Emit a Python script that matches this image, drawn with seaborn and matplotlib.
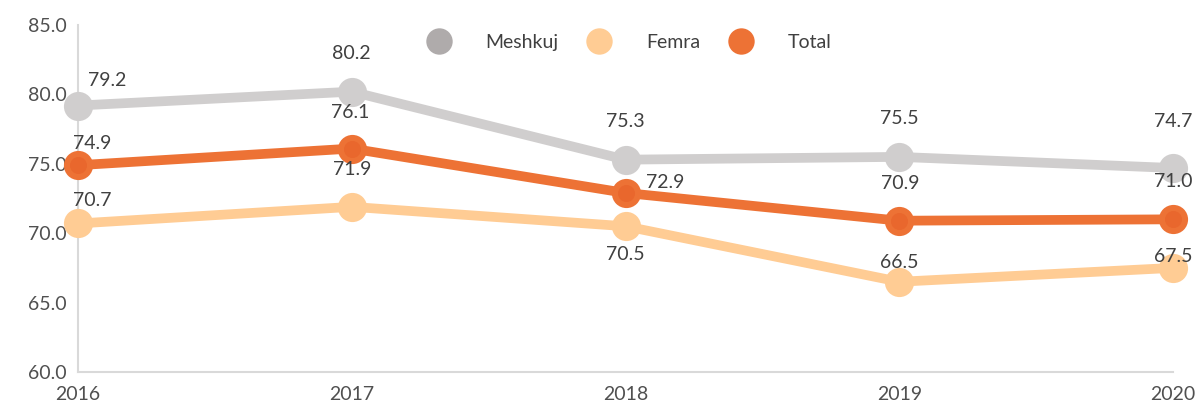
"""Line chart: Meshkuj / Femra / Total, 2016-2020."""
import pandas as pd
import seaborn as sns
import matplotlib.pyplot as plt
from matplotlib.lines import Line2D

years = [2016, 2017, 2018, 2019, 2020]
meshkuj = [79.2, 80.2, 75.3, 75.5, 74.7]
femra = [70.7, 71.9, 70.5, 66.5, 67.5]
total = [74.9, 76.1, 72.9, 70.9, 71.0]
series_names = ['Meshkuj', 'Femra', 'Total']

colors = {'Meshkuj': '#D0CECE', 'Femra': '#FFCC94', 'Total': '#ED7235'}
legend_colors = {'Meshkuj': '#AFABAB', 'Femra': '#FFCC94', 'Total': '#ED7235'}

# label offsets in pixels (dx, dy) per series and year
label_offsets = {
    'Meshkuj': [(29, 25), (0, 38), (0, 38), (0, 38), (0, 46)],
    'Total': [(14, 22), (-2, 36), (40, 10), (1, 37), (0, 38)],
    'Femra': [(14, 23), (0, 37), (0, -28), (0, 19), (0, 11)],
}

df = pd.DataFrame({
    'year': years * 3,
    'value': meshkuj + femra + total,
    'series': ['Meshkuj'] * 5 + ['Femra'] * 5 + ['Total'] * 5,
})

sns.set_style('white')
plt.rcParams['font.family'] = ['Lato', 'DejaVu Sans']
text_color = '#505050'

fig, ax = plt.subplots(figsize=(12, 4.11), dpi=100)
fig.subplots_adjust(left=0.065, right=0.9775, bottom=0.095, top=0.939)

sns.lineplot(data=df, x='year', y='value', hue='series', hue_order=series_names,
             palette=colors, linewidth=7, marker='o', markersize=21,
             markeredgewidth=0, legend=False, ax=ax, zorder=3, clip_on=False)
# slightly darker core on Total markers
tot = df[df.series == 'Total']
ax.scatter(tot.year, tot.value, s=150, color='#E9672D', zorder=4, linewidths=0,
           clip_on=False)

for name in series_names:
    sub = df[df.series == name]
    for (x, y), (dx, dy) in zip(zip(sub.year, sub.value), label_offsets[name]):
        ax.annotate(f'{y:.1f}', xy=(x, y), xytext=(dx, dy), textcoords='offset pixels',
                    ha='center', va='center', fontsize=14, color='#404040', zorder=5,
                    annotation_clip=False)

ax.set_xlim(2016, 2020)
ax.set_ylim(60, 85)
ax.set_xticks(years)
ax.set_yticks([60, 65, 70, 75, 80, 85])
ax.set_yticklabels([f'{v:.1f}' for v in [60, 65, 70, 75, 80, 85]])
ax.set_xlabel('')
ax.set_ylabel('')
ax.tick_params(axis='both', labelsize=14, colors=text_color, length=0)
ax.tick_params(axis='x', pad=10)
ax.tick_params(axis='y', pad=8)
for side in ['top', 'right']:
    ax.spines[side].set_visible(False)
for side in ['left', 'bottom']:
    ax.spines[side].set_color('#D9D9D9')
    ax.spines[side].set_linewidth(1.5)
ax.spines['left'].set_zorder(1)

handles = [Line2D([], [], linestyle='none', marker='o', markersize=19,
                  markerfacecolor=legend_colors[n], markeredgewidth=0) for n in series_names]
ax.legend(handles, series_names, loc='upper center', bbox_to_anchor=(0.5, 1.025),
          ncol=3, frameon=False, fontsize=14, labelcolor='#404040',
          handletextpad=1.4, columnspacing=1.1)

fig.savefig('out.png', dpi=100)
plt.close(fig)
